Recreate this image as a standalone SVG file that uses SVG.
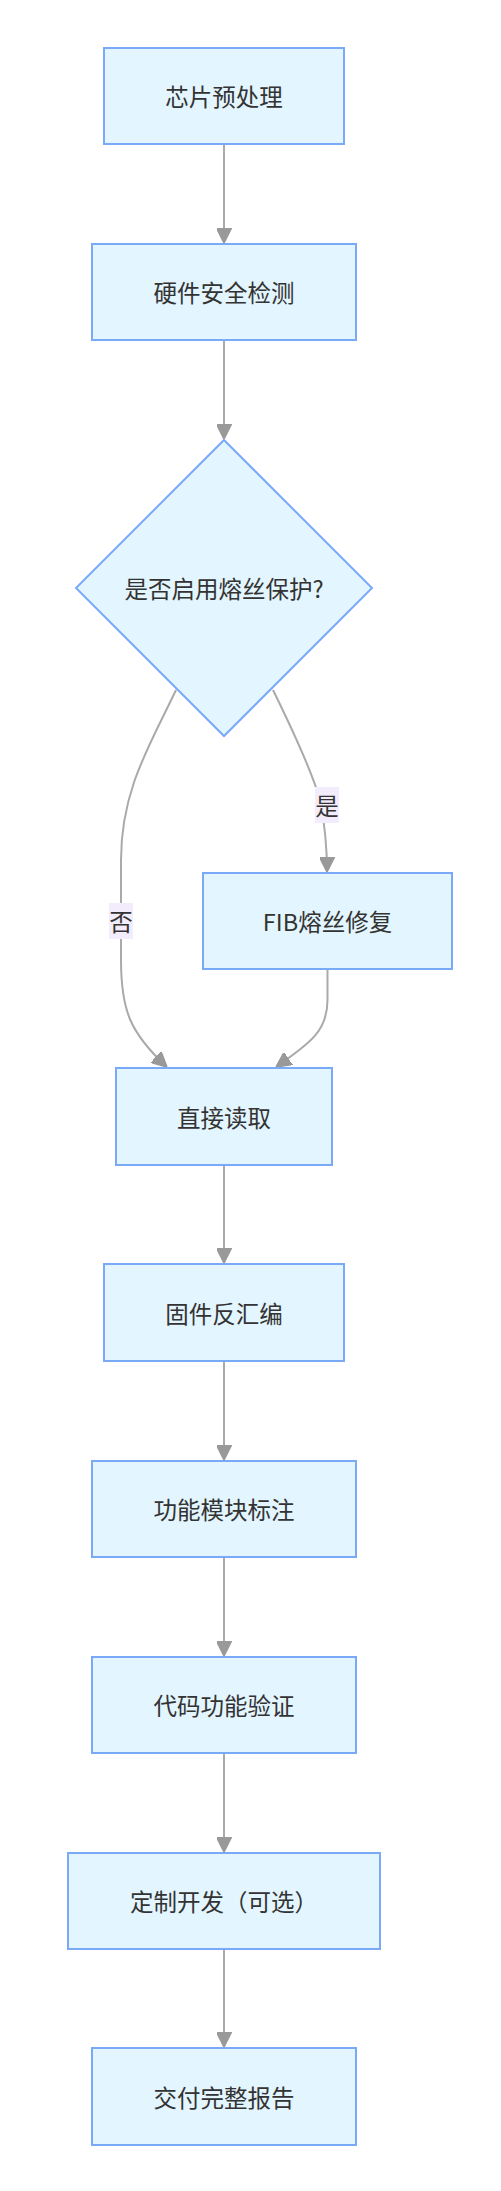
<svg xmlns="http://www.w3.org/2000/svg" width="501" height="2191" viewBox="0 0 501 2191">
<style>
.node rect,.node polygon{fill:#e3f5fe;stroke:#7aa9f7;stroke-width:2}
.node text,.lbl text{font-family:"Noto Sans CJK SC","Noto Sans",sans-serif;font-size:23.5px;fill:#333;text-anchor:middle;dominant-baseline:central}
.edges path{fill:none;stroke:#aaaaaa;stroke-width:2}
.lbl rect{fill:#f3ecfc}
</style>
<defs>
<marker id="arr" viewBox="0 0 10 10" refX="10" refY="5" markerWidth="7.5" markerHeight="7.5" markerUnits="strokeWidth" orient="auto">
<path d="M0,0 L10,5 L0,10 z" fill="#999" stroke="#999" stroke-width="1"/>
</marker>
</defs>
<g class="edges">
<path d="M224,144 L224,243" marker-end="url(#arr)"/>
<path d="M224,340 L224,439" marker-end="url(#arr)"/>
<path d="M176,690 C150,745 121,790 121,860 L121,960 C121,1010 130,1033 167,1067" marker-end="url(#arr)"/>
<path d="M273,690 C300,745 313,775 320,800 C325,825 327,845 327,872" marker-end="url(#arr)"/>
<path d="M327.5,969 L327.5,1000 C327.5,1030 312,1042 276,1067" marker-end="url(#arr)"/>
<path d="M224,1165 L224,1263" marker-end="url(#arr)"/>
<path d="M224,1361 L224,1460" marker-end="url(#arr)"/>
<path d="M224,1557 L224,1656" marker-end="url(#arr)"/>
<path d="M224,1753 L224,1852" marker-end="url(#arr)"/>
<path d="M224,1949 L224,2047" marker-end="url(#arr)"/>
</g>
<g class="lbl" id="lbl-yes"><rect x="315" y="787" width="24" height="36"/><text x="327" y="805">是</text></g>
<g class="lbl" id="lbl-no"><rect x="109" y="903" width="24" height="36"/><text x="121" y="921">否</text></g>
<g class="node" id="n1"><rect x="104" y="48" width="240" height="96"/><text x="224" y="96">芯片预处理</text></g>
<g class="node" id="n2"><rect x="92" y="244" width="264" height="96"/><text x="224" y="292">硬件安全检测</text></g>
<g class="node" id="n3"><polygon points="224,440 372,588 224,736 76,588"/><text x="224" y="588">是否启用熔丝保护?</text></g>
<g class="node" id="n4"><rect x="203" y="873" width="249" height="96"/><text x="327.5" y="921">FIB熔丝修复</text></g>
<g class="node" id="n5"><rect x="116" y="1068" width="216" height="97"/><text x="224" y="1116.5">直接读取</text></g>
<g class="node" id="n6"><rect x="104" y="1264" width="240" height="97"/><text x="224" y="1312.5">固件反汇编</text></g>
<g class="node" id="n7"><rect x="92" y="1461" width="264" height="96"/><text x="224" y="1509">功能模块标注</text></g>
<g class="node" id="n8"><rect x="92" y="1657" width="264" height="96"/><text x="224" y="1705">代码功能验证</text></g>
<g class="node" id="n9"><rect x="68" y="1853" width="312" height="96"/><text x="224" y="1901">定制开发（可选）</text></g>
<g class="node" id="n10"><rect x="92" y="2048" width="264" height="97"/><text x="224" y="2096.5">交付完整报告</text></g>
</svg>
